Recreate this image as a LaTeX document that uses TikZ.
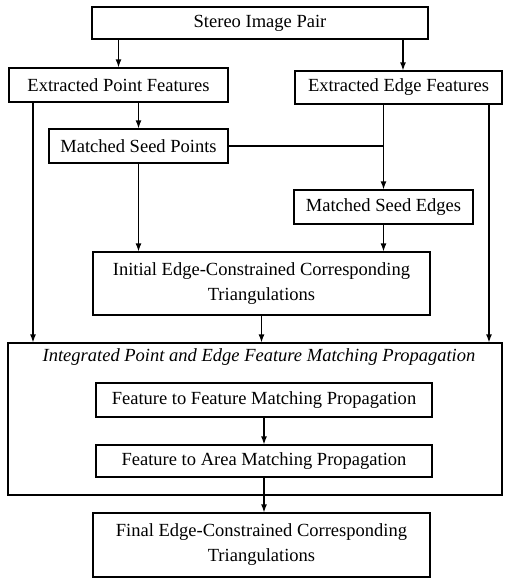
\documentclass[tikz,border=0pt]{standalone}
\usepackage{fontspec}
\setmainfont{Liberation Serif}
\usepackage{tikz}
\usetikzlibrary{arrows.meta}

\begin{document}
\begin{tikzpicture}[x=0.54pt, y=-0.54pt, line width=0.65pt,
    box/.style={draw, inner sep=0pt, align=center, font=\fontsize{10}{13.5}\selectfont},
    arr/.style={-{Latex[length=4.3pt, width=3.2pt]}}]
    \useasboundingbox (0, 0) rectangle (510, 579);

    \node[box, minimum width=181.4pt, minimum height=17.3pt] (stereo) at (260, 23) {Stereo Image Pair};
    \node[box, minimum width=118.3pt, minimum height=18.4pt] (ptfeat) at (118.5, 85) {Extracted Point Features};
    \node[box, minimum width=111.8pt, minimum height=17.8pt] (edgefeat) at (398.5, 87.5) {Extracted Edge Features};
    \node[box, minimum width=96.7pt, minimum height=18.4pt] (seedpt) at (138.5, 146) {Matched Seed Points};
    \node[box, minimum width=96.7pt, minimum height=18.4pt] (seededge) at (383.5, 207) {Matched Seed Edges};
    \node[box, minimum width=182pt, minimum height=34pt] (initri) at (261.5, 283.5) {Initial Edge-Constrained Corresponding\\Triangulations};

    \node[draw, minimum width=266.8pt, minimum height=82.1pt] (prop) at (255, 419) {};
    \node[font=\fontsize{10}{12}\selectfont\itshape] (proptitle) at (259, 357) {Integrated Point and Edge Feature Matching Propagation};
    \node[box, minimum width=181.4pt, minimum height=18.4pt] (f2f) at (264, 400) {Feature to Feature Matching Propagation};
    \node[box, minimum width=181.4pt, minimum height=17.3pt] (f2a) at (264, 461) {Feature to Area Matching Propagation};

    \node[box, minimum width=182pt, minimum height=34.6pt] (fintri) at (261.5, 545) {Final Edge-Constrained Corresponding\\Triangulations};

    \coordinate (edgecol) at (403, 0);
    \coordinate (leftcol) at (33, 0);
    \coordinate (rightcol) at (489, 0);

    \draw[arr] (stereo.south -| ptfeat) -- (ptfeat.north);
    \draw[arr] (stereo.south -| edgecol) -- (edgefeat.north -| edgecol);
    \draw[arr] (ptfeat.south -| seedpt) -- (seedpt.north);
    \draw[arr] (ptfeat.south -| leftcol) -- (prop.north -| leftcol);
    \draw[arr] (edgefeat.south -| seededge) -- (seededge.north);
    \draw[arr] (edgefeat.south -| rightcol) -- (prop.north -| rightcol);
    \draw (seedpt.east) -- (seedpt.east -| seededge);
    \draw[arr] (seedpt.south) -- (initri.north -| seedpt);
    \draw[arr] (seededge.south) -- (initri.north -| seededge);
    \draw[arr] (initri.south) -- (prop.north -| initri);
    \draw[arr] (f2f.south) -- (f2a.north);
    \draw[arr] (f2a.south) -- (fintri.north -| f2a);
\end{tikzpicture}
\end{document}
